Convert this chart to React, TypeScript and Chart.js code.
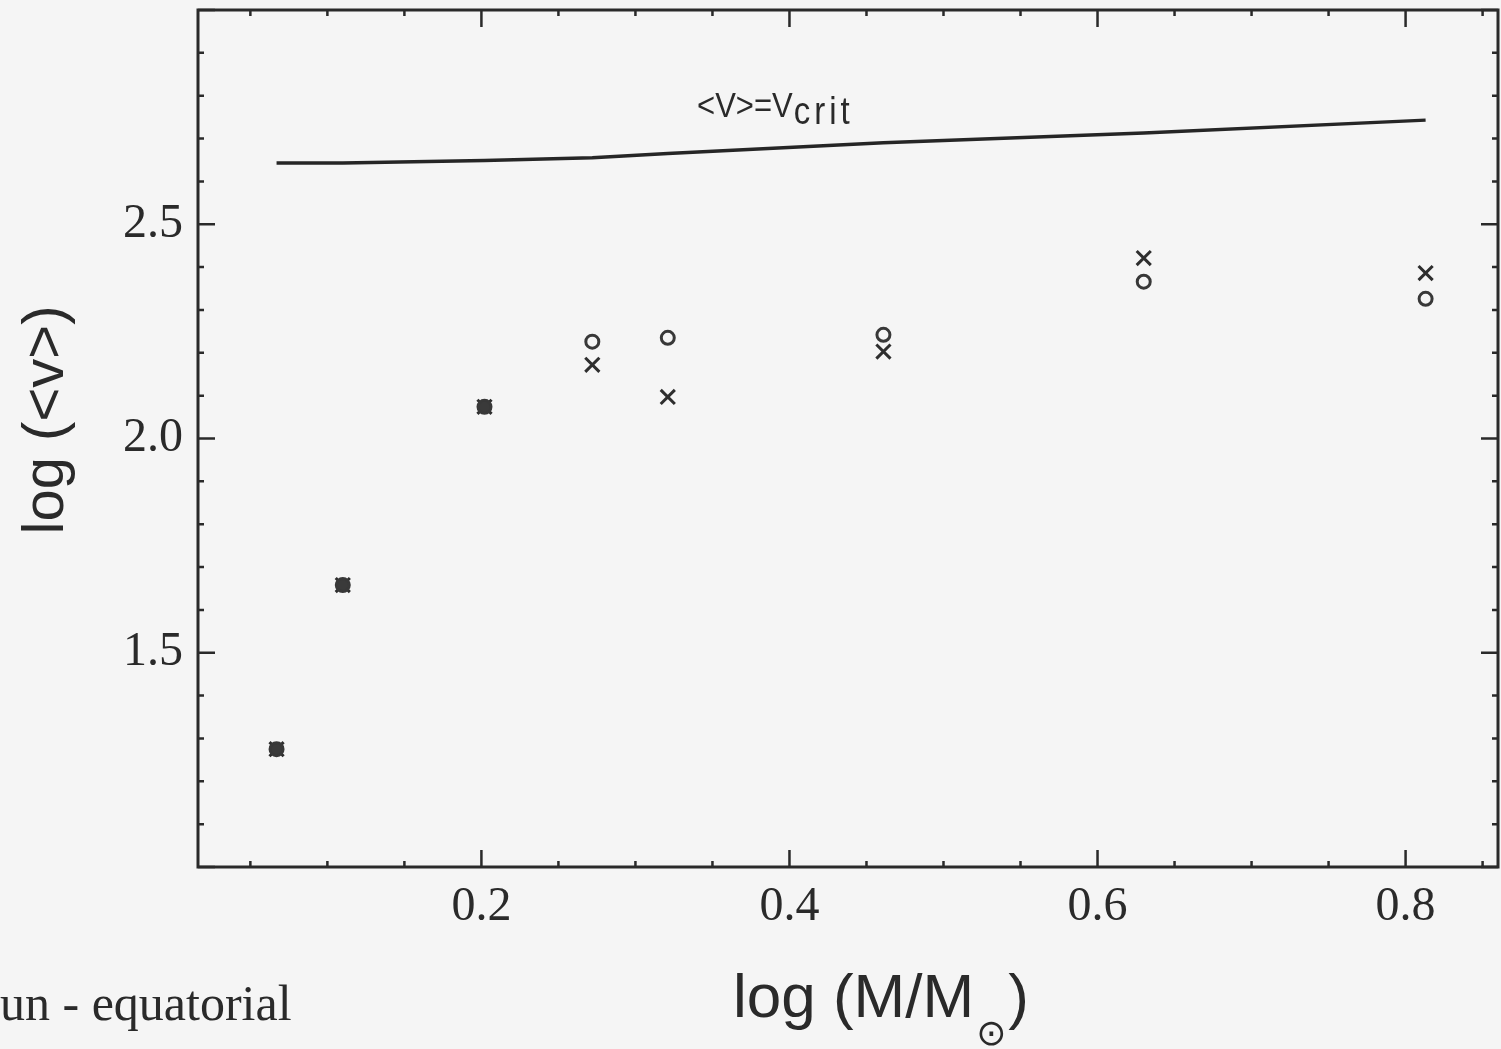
import React, { useEffect, useRef } from 'react';
import { Chart, registerables } from 'chart.js';

Chart.register(...registerables);

// ---- data ----
const MASS = [0.067, 0.110, 0.202, 0.272, 0.321, 0.461, 0.630, 0.813];
const V_CIRCLE = [1.275, 1.658, 2.074, 2.226, 2.235, 2.242, 2.366, 2.326];
const V_CROSS = [1.275, 1.658, 2.074, 2.172, 2.097, 2.203, 2.421, 2.386];
const V_CRIT = [2.643, 2.643, 2.649, 2.655, 2.665, 2.690, 2.713, 2.743];
const X_TICKS = [0.2, 0.4, 0.6, 0.8];
const Y_TICKS = [1.5, 2.0, 2.5];
const X_MIN = 0.016;
const X_MAX = 0.86;
const Y_MIN = 1.0;
const Y_MAX = 3.0;
const X_MINOR = 0.05;
const Y_MINOR = 0.1;
const LABEL_X = 0.34;
const LABEL_Y = 2.75;

const INK = '#2a2a2a';
const SANS = '"Liberation Sans", Arial, Helvetica, sans-serif';
const SERIF = '"Liberation Serif", "Times New Roman", Times, serif';

const framePlugin = {
  id: 'frame',
  beforeDraw(chart: any) {
    const { ctx, width, height } = chart;
    ctx.save();
    ctx.fillStyle = '#f5f5f5';
    ctx.fillRect(0, 0, width, height);
    ctx.restore();
  },
  afterDraw(chart: any) {
    const { ctx, chartArea: a, scales } = chart;
    const xs = scales.x;
    const ys = scales.y;
    ctx.save();
    ctx.strokeStyle = INK;
    ctx.lineWidth = 3;
    ctx.strokeRect(a.left, a.top, a.right - a.left, a.bottom - a.top);

    ctx.lineWidth = 2.5;
    const MAJ = 17;
    const MIN = 6;
    // x ticks (bottom and top), pointing inward
    const k0 = Math.ceil(X_MIN / X_MINOR - 1e-9);
    const k1 = Math.floor(X_MAX / X_MINOR + 1e-9);
    for (let k = k0; k <= k1; k++) {
      const v = k * X_MINOR;
      const px = xs.getPixelForValue(v);
      const len = k % 4 === 0 ? MAJ : MIN;
      ctx.beginPath();
      ctx.moveTo(px, a.bottom);
      ctx.lineTo(px, a.bottom - len);
      ctx.moveTo(px, a.top);
      ctx.lineTo(px, a.top + len);
      ctx.stroke();
    }
    // y ticks (left and right)
    const j0 = Math.round(Y_MIN / Y_MINOR);
    const j1 = Math.round(Y_MAX / Y_MINOR);
    for (let j = j0; j <= j1; j++) {
      const v = j * Y_MINOR;
      const py = ys.getPixelForValue(v);
      const len = j % 5 === 0 ? MAJ : MIN;
      ctx.beginPath();
      ctx.moveTo(a.left, py);
      ctx.lineTo(a.left + len, py);
      ctx.moveTo(a.right, py);
      ctx.lineTo(a.right - len, py);
      ctx.stroke();
    }

    // annotation <V>=V_crit (slightly tall, like the scanned original)
    ctx.fillStyle = INK;
    ctx.textBaseline = 'alphabetic';
    ctx.textAlign = 'left';
    const lx = xs.getPixelForValue(LABEL_X);
    const ly = ys.getPixelForValue(LABEL_Y);
    ctx.save();
    ctx.translate(lx, ly);
    ctx.scale(1, 1.15);
    ctx.font = `31px ${SANS}`;
    const main = '<V>=V';
    ctx.fillText(main, 0, 0);
    const mw = ctx.measureText(main).width;
    ctx.font = `33px ${SANS}`;
    (ctx as any).letterSpacing = '4px';
    ctx.fillText('crit', mw + 1, 6);
    (ctx as any).letterSpacing = '0px';
    ctx.restore();

    // y-axis title (rotated)
    ctx.save();
    ctx.translate(a.left - 135, a.top + 410);
    ctx.rotate(-Math.PI / 2);
    ctx.textAlign = 'center';
    ctx.font = `58px ${SANS}`;
    ctx.fillText('log (<v>)', 0, 0);
    ctx.restore();

    // x-axis title with subscript sun symbol
    const tx = a.left + 535;
    const tb = a.bottom + 150;
    ctx.textAlign = 'left';
    ctx.font = `62px ${SANS}`;
    const t1 = 'log (M/M';
    ctx.fillText(t1, tx, tb);
    const w1 = ctx.measureText(t1).width;
    ctx.font = `36px "DejaVu Sans", ${SANS}`;
    const sun = '\u2299';
    ctx.fillText(sun, tx + w1 + 2, tb + 28);
    const w2 = ctx.measureText(sun).width;
    ctx.font = `62px ${SANS}`;
    ctx.fillText(')', tx + w1 + w2 + 4, tb);

    // page text below the figure
    ctx.font = `50px ${SERIF}`;
    ctx.fillText('un - equatorial', 0, a.bottom + 153);
    ctx.restore();
  },
};

const transparent = 'rgba(0,0,0,0)';

export default function App() {
  const canvasRef = useRef<HTMLCanvasElement | null>(null);

  useEffect(() => {
    const canvas = canvasRef.current;
    if (!canvas) return;
    const chart = new Chart(canvas, {
      type: 'scatter',
      data: {
        datasets: [
          {
            type: 'line',
            label: '<v>=v_crit',
            data: MASS.map((m, i) => ({ x: m, y: V_CRIT[i] })),
            borderColor: '#262626',
            borderWidth: 3.5,
            pointRadius: 0,
            fill: false,
            tension: 0,
          } as any,
          {
            label: 'circles',
            data: MASS.map((m, i) => ({ x: m, y: V_CIRCLE[i] })),
            pointStyle: 'circle',
            pointRadius: 6.5,
            borderWidth: 3,
            borderColor: '#383838',
            // where circle and cross coincide the scan shows a dark blob
            backgroundColor: (c: any) =>
              c.dataIndex !== undefined && V_CIRCLE[c.dataIndex] === V_CROSS[c.dataIndex] ? '#3a3a3a' : transparent,
          },
          {
            label: 'crosses',
            data: MASS.map((m, i) => ({ x: m, y: V_CROSS[i] })),
            pointStyle: 'crossRot',
            pointRadius: 10,
            borderWidth: 3,
            borderColor: '#2e2e2e',
            backgroundColor: transparent,
          },
        ],
      },
      options: {
        responsive: false,
        animation: false,
        devicePixelRatio: 1,
        layout: { autoPadding: false, padding: { top: 10, right: 3, left: 0, bottom: 0 } },
        plugins: { legend: { display: false }, tooltip: { enabled: false } },
        scales: {
          x: {
            type: 'linear',
            min: X_MIN,
            max: X_MAX,
            afterBuildTicks: (s: any) => {
              s.ticks = X_TICKS.map((v) => ({ value: v }));
            },
            afterFit: (s: any) => {
              s.height = 182;
              s.paddingLeft = 0;
              s.paddingRight = 0;
              s.paddingTop = 0;
              s.paddingBottom = 0;
            },
            grid: { display: false, drawTicks: false },
            border: { display: false },
            ticks: {
              padding: 12,
              autoSkip: false,
              maxRotation: 0,
              color: INK,
              font: { family: SERIF, size: 48 },
              callback: (v: any) => Number(v).toFixed(1),
            },
          },
          y: {
            type: 'linear',
            min: Y_MIN,
            max: Y_MAX,
            afterBuildTicks: (s: any) => {
              s.ticks = Y_TICKS.map((v) => ({ value: v }));
            },
            afterFit: (s: any) => {
              s.width = 198;
              s.paddingLeft = 0;
              s.paddingRight = 0;
              s.paddingTop = 0;
              s.paddingBottom = 0;
            },
            grid: { display: false, drawTicks: false },
            border: { display: false },
            ticks: {
              padding: 15,
              autoSkip: false,
              color: INK,
              font: { family: SERIF, size: 48 },
              callback: (v: any) => Number(v).toFixed(1),
            },
          },
        },
      },
      plugins: [framePlugin],
    });
    return () => chart.destroy();
  }, []);

  return (
    <div style={{ position: 'fixed', left: 0, top: 0, width: 1501, height: 1049, background: '#f5f5f5' }}>
      <canvas ref={canvasRef} width={1501} height={1049} style={{ display: 'block' }} />
    </div>
  );
}
